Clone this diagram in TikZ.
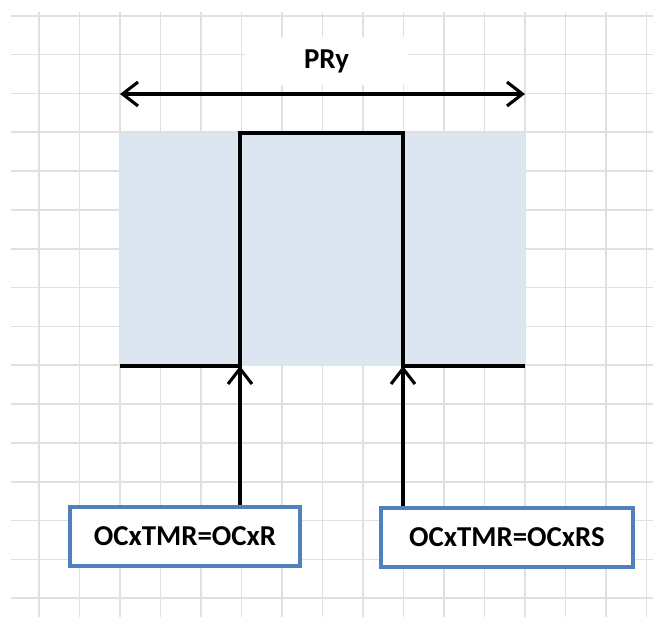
\documentclass[tikz,border=0pt]{standalone}
\usepackage{fontspec}
\setmainfont{Carlito}
\usetikzlibrary{positioning, calc, arrows.meta}
\definecolor{gridgray}{RGB}{224, 224, 224}
\definecolor{shadeblue}{RGB}{220, 230, 241}
\definecolor{boxblue}{RGB}{79, 129, 189}

\begin{document}
\begin{tikzpicture}[
    x=0.025cm, y=-0.025cm,
    font=\bfseries\fontsize{20.5}{24}\selectfont,
    gridline/.style={draw=gridgray, line width=1.2pt},
    pulse/.style={draw=black, line width=2.2pt, line join=miter},
    dimarrow/.style={{Straight Barb[length=11pt, width=17pt, line width=2.2pt]}-{Straight Barb[length=11pt, width=17pt, line width=2.2pt]}, line width=2.2pt},
    sigarrow/.style={-{Straight Barb[length=11pt, width=17pt, line width=2.2pt]}, line width=2.2pt},
    regbox/.style={rectangle, draw=boxblue, fill=white, line width=2.9pt, minimum height=1.475cm, inner sep=4pt}
]
    \useasboundingbox (0, 0) rectangle (653, 617);

    % =========================================================================
    % BACKGROUND GRID
    % =========================================================================
    \foreach \k in {0,...,15} {
        \draw[gridline] (39+40.5*\k, 12) -- (39+40.5*\k, 617);
        \draw[gridline] (11, 15.7+38.84*\k) -- (653, 15.7+38.84*\k);
    }

    % =========================================================================
    % PERIOD AND PULSE
    % =========================================================================
    \fill[shadeblue] (120, 133) rectangle (525, 366);

    \coordinate (pstart) at (120, 94);
    \coordinate (pend) at (525, 94);
    \node[fill=white, minimum width=4.075cm, minimum height=1.2cm, inner sep=0pt] (pry) at (326.5, 61) {PRy};
    \draw[dimarrow] (pstart) -- (pend);

    % Pulse edges
    \coordinate (rise) at (240, 366);
    \coordinate (fall) at (403, 366);
    \draw[pulse] (120, 366) -- (rise) -- (240, 133) -- (403, 133) -- (fall) -- (525, 366);

    % =========================================================================
    % COMPARE REGISTERS
    % =========================================================================
    \node[regbox, minimum width=5.75cm] (lbox) at (185, 536.5) {OCxTMR=OCxR};
    \node[regbox, minimum width=6.3cm] (rbox) at (507, 537.5) {OCxTMR=OCxRS};

    \draw[sigarrow] (lbox.north -| rise) -- (rise);
    \draw[sigarrow] (rbox.north -| fall) -- (fall);

\end{tikzpicture}
\end{document}
